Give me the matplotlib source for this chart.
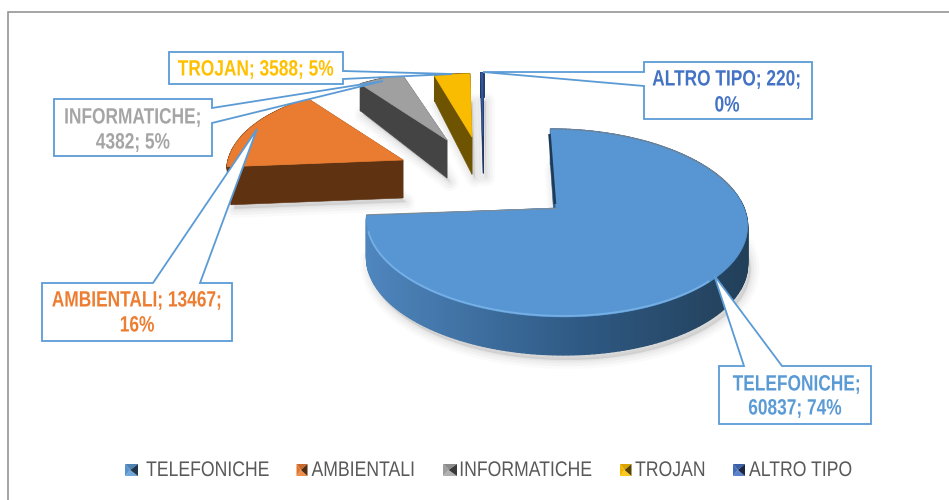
import numpy as np
import matplotlib
matplotlib.use("Agg")
import matplotlib.pyplot as plt
from matplotlib.patches import Polygon
from matplotlib.colors import to_rgb
from matplotlib.patheffects import AbstractPathEffect
from matplotlib.transforms import Affine2D

categories = ["TELEFONICHE", "AMBIENTALI", "INFORMATICHE", "TROJAN", "ALTRO TIPO"]
values = [60837, 13467, 4382, 3588, 220]
pct_labels = ["74%", "16%", "5%", "5%", "0%"]

top_colors = ["#5796D2", "#E97C30", "#A0A0A0", "#F9BC00", "#34589C"]
side_colors = ["#2F5A85", "#5F3212", "#444444", "#6E5400", "#1F3864"]
text_colors = ["#5B9BD5", "#ED7D31", "#A5A5A5", "#FFC000", "#4472C4"]
legend_base = ["#5B9BD5", "#ED7D31", "#A5A5A5", "#FFC000", "#4472C4"]

# slice placement: apex pixel, scale, lean of the projection
apex = [(556, 208), (403, 160), (447, 140), (472, 137), (483, 136)]
scale = [1.0, 0.93, 0.85, 0.80, 0.80]
inset = [0.0, 0.025, 0.0, 0.0, 0.0]
lean = [0.07, 0.07, 0.07, 0.0, 0.0]

A, B, K = 188.0, 91.6, 0.159
EDGE = "#5B9BD5"
FONT = ["Liberation Sans", "DejaVu Sans"]


class Narrow(AbstractPathEffect):
    """Condense a text line horizontally and stretch it a little vertically."""

    def __init__(self, sx, sy=1.0, anchor="center"):
        super().__init__()
        self.sx, self.sy, self.anchor = sx, sy, anchor

    def draw_path(self, renderer, gc, tpath, affine, rgbFace=None):
        bb = tpath.get_extents()
        mid = (bb.x0 + bb.x1) / 2 if self.anchor == "center" else bb.x0
        t = Affine2D().translate(-mid, 0).scale(self.sx, self.sy).translate(mid, 0) + affine
        renderer.draw_path(gc, tpath, t, rgbFace)


fig = plt.figure(figsize=(9.49, 5.0), dpi=100)
ax = fig.add_axes([0, 0, 1, 1])
ax.set_xlim(0, 949)
ax.set_ylim(500, 0)
ax.axis("off")

# chart frame
ax.plot([8, 8, 949], [500, 12, 12], color="#8C8C8C", lw=1.1, solid_joinstyle="miter", zorder=1)


def project(theta, i):
    u, v = np.sin(theta), np.cos(theta)
    w = 1 + K * v
    dy = -B * v / w
    dx = A * u / w + lean[i] * dy
    s = scale[i]
    return np.column_stack([apex[i][0] + s * dx, apex[i][1] + s * dy])


def drop(pts, i):
    y = pts[:, 1]
    d = np.minimum(38.0, 38.0 + 0.2 * (y - 140.0))
    x = pts[:, 0] + inset[i] * (apex[i][0] - pts[:, 0])
    return np.column_stack([x, y + d])


total = float(sum(values))
edges = np.concatenate([[0.0], np.cumsum(values) / total * 2 * np.pi])

# soft shadows
for i in range(len(values)):
    th = np.linspace(edges[i], edges[i + 1], 120)
    arc = project(th, i)
    outline = np.vstack([[apex[i]], arc])
    low = drop(outline, i) + np.array([3.0, 4.0 if i else 5.0])
    for lw, al in [(13, 0.035), (9, 0.05), (5, 0.06), (2, 0.07)]:
        ax.add_patch(Polygon(low, closed=True, facecolor="#808080", edgecolor="#808080",
                             lw=lw, alpha=al, joinstyle="round", zorder=2))

# slices
for i in range(len(values)):
    n = 200 if i == 0 else 60
    th = np.linspace(edges[i], edges[i + 1], n)
    arc = project(th, i)
    low_arc = drop(arc, i)
    ap = np.array([apex[i]], dtype=float)
    low_ap = drop(ap, i)
    z = 3 + i * 0.1
    for end, lowend in [(arc[0], low_arc[0]), (arc[-1], low_arc[-1])]:
        ax.add_patch(Polygon([ap[0], end, lowend, low_ap[0]], closed=True,
                             facecolor=side_colors[i], edgecolor=side_colors[i], lw=0.4, zorder=z))
    if i == 0:
        c_left = np.array(to_rgb("#4F86BE"))
        c_mid = np.array(to_rgb("#2F5A85"))
        c_right = np.array(to_rgb("#223F58"))
    for j in range(n - 1):
        if i == 0:
            x = np.clip((arc[j, 0] - 367.0) / (749.0 - 367.0), 0, 1)
            col = c_left + (c_mid - c_left) * x / 0.55 if x < 0.55 else c_mid + (c_right - c_mid) * (x - 0.55) / 0.45
            col = tuple(col)
        else:
            col = side_colors[i]
        ax.add_patch(Polygon([arc[j], arc[j + 1], low_arc[j + 1], low_arc[j]], closed=True,
                             facecolor=col, edgecolor=col, lw=1.0, zorder=z))
    ax.add_patch(Polygon(np.vstack([ap, arc]), closed=True, facecolor=top_colors[i],
                         edgecolor=top_colors[i], lw=0.5, joinstyle="round", zorder=z + 0.02))
    if i == 0:
        mask = (th > np.pi * 0.75) & (th < np.pi * 1.42)
        ax.plot(arc[mask, 0], arc[mask, 1] - 1, color="#7DB6EA", lw=1.3, alpha=0.8, zorder=z + 0.03)
        ax.plot([arc[0, 0] - 1, ap[0, 0] - 1], [arc[0, 1] + 5, ap[0, 1] - 4], color="#1F3A55", lw=1.8,
                solid_capstyle="butt", zorder=z + 0.03)
        ax.plot([arc[-1, 0], ap[0, 0]], [arc[-1, 1] - 0.5, ap[0, 1] + 0.5], color="#7F8C98", lw=0.8, zorder=z + 0.03)
        ax.plot(arc[:60, 0], arc[:60, 1], color="#6E8296", lw=0.8, zorder=z + 0.03)

# callouts
callouts = [
    [(719, 366), (744, 366), (714, 275), (782, 366), (871, 366), (871, 424), (719, 424)],
    [(42, 283), (153, 283), (257, 129), (200, 283), (232, 283), (232, 341), (42, 341)],
    [(54, 99), (212, 99), (212, 108), (383, 81), (212, 123), (212, 156), (54, 156)],
    [(169, 52), (343, 52), (343, 71), (452, 74), (343, 79), (343, 84), (169, 84)],
    [(644, 62), (812, 62), (812, 119), (644, 119), (644, 86), (483, 72), (644, 72)],
]
for k, poly in enumerate(callouts):
    ax.add_patch(Polygon(poly, closed=True, facecolor="white", edgecolor=EDGE, lw=1.3,
                         joinstyle="miter", zorder=6 + k * 0.1))

label_lines = [
    [(f"{categories[0]};", 797, 385), (f"{values[0]}; {pct_labels[0]}", 795, 409)],
    [(f"{categories[1]}; {values[1]};", 137, 301), (pct_labels[1], 137, 326)],
    [(f"{categories[2]};", 133, 118), (f"{values[2]}; {pct_labels[2]}", 133, 143)],
    [(f"{categories[3]}; {values[3]}; {pct_labels[3]}", 256, 70)],
    [(f"{categories[4]}; {values[4]};", 727, 80), (pct_labels[4], 727, 106)],
]
for k, lines in enumerate(label_lines):
    for s, x, y in lines:
        ax.text(x, y, s, ha="center", va="center", color=text_colors[k], fontsize=14.5,
                fontweight="bold", family=FONT, zorder=7, path_effects=[Narrow(0.86, 1.1)])


def shade(c, f):
    c = np.array(to_rgb(c))
    return tuple(np.clip(c * f, 0, 1)) if f <= 1 else tuple(c + (1 - c) * (f - 1))


# legend
marker_x = [125, 296.5, 443, 620, 733]
marker_w = [13, 11, 14, 11.5, 12]
text_x = [146, 311.5, 459, 635, 749]
my0, my1 = 464, 476
for c, mx, mw, tx, col in zip(categories, marker_x, marker_w, text_x, legend_base):
    l, r = mx, mx + mw
    cx, cy = mx + mw * 0.4, (my0 + my1) / 2
    ax.add_patch(Polygon([(l, my0), (r, my0), (cx, cy)], facecolor=shade(col, 0.85), lw=0, zorder=7))
    ax.add_patch(Polygon([(l, my1), (r, my1), (cx, cy)], facecolor=shade(col, 1.12), lw=0, zorder=7))
    ax.add_patch(Polygon([(l, my0), (l, my1), (cx, cy)], facecolor=shade(col, 0.95), lw=0, zorder=7))
    ax.add_patch(Polygon([(r, my0), (r, my1), (cx, cy)], facecolor=shade(col, 0.35), lw=0, zorder=7))
    ax.text(tx, 470.5, c, ha="left", va="center", color="#595959", fontsize=14.5, family=FONT,
            zorder=7, path_effects=[Narrow(0.875, 1.05, "left")])

fig.savefig("out.png", dpi=100, facecolor="white")
